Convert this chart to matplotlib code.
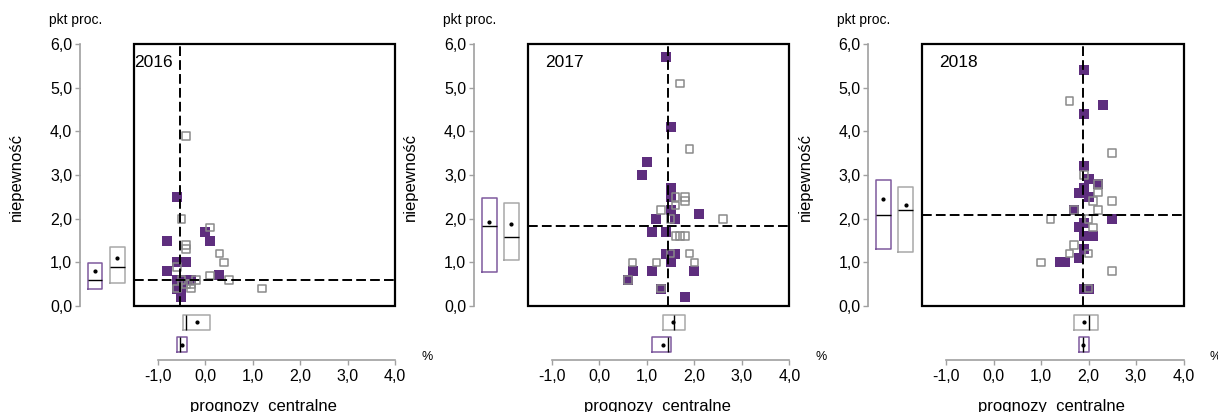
import numpy as np
import matplotlib
matplotlib.use('Agg')
import matplotlib.pyplot as plt
from matplotlib.patches import Rectangle

plt.rcParams['font.family'] = ['Liberation Sans', 'DejaVu Sans']
plt.rcParams['lines.scale_dashes'] = False

# Dane
lata = ['2016', '2017', '2018']

# prognozy centralne (x) i niepewnosc (y) - ankieta biezaca (fiolet)
x_fiolet = [
    [-0.6, -0.8, 0.0, 0.1, -0.6, -0.4, -0.8, 0.3, -0.6, -0.4, -0.3, -0.6, -0.5, -0.5],
    [1.4, 1.5, 1.0, 0.9, 1.5, 1.5, 1.5, 1.2, 1.6, 2.1, 1.1, 1.4, 1.4, 1.6, 1.5, 0.7, 1.1, 2.0, 0.6, 1.3, 1.8],
    [1.9, 2.3, 1.9, 1.9, 2.0, 2.2, 1.9, 1.8, 2.0, 1.7, 2.5, 1.9, 1.8, 1.9, 2.1, 1.9, 1.8, 1.4, 1.5, 1.9, 2.0],
]
y_fiolet = [
    [2.5, 1.5, 1.7, 1.5, 1.0, 1.0, 0.8, 0.7, 0.6, 0.6, 0.6, 0.4, 0.4, 0.2],
    [5.7, 4.1, 3.3, 3.0, 2.7, 2.5, 2.2, 2.0, 2.0, 2.1, 1.7, 1.7, 1.2, 1.2, 1.0, 0.8, 0.8, 0.8, 0.6, 0.4, 0.2],
    [5.4, 4.6, 4.4, 3.2, 2.9, 2.8, 2.7, 2.6, 2.5, 2.2, 2.0, 1.9, 1.8, 1.6, 1.6, 1.3, 1.1, 1.0, 1.0, 0.4, 0.4],
]
# ankieta poprzednia (szare, puste)
x_szare = [
    [-0.4, -0.5, 0.1, -0.4, -0.4, 0.3, 0.4, -0.6, 0.1, 0.5, -0.2, 1.2, -0.3, -0.4, -0.3, -0.6, -0.5],
    [1.7, 1.9, 1.6, 1.8, 1.8, 1.6, 1.3, 1.5, 2.6, 1.6, 1.7, 1.8, 1.9, 1.5, 0.7, 1.2, 2.0, 0.6, 1.3],
    [1.6, 2.5, 1.9, 2.2, 2.2, 2.1, 2.5, 2.2, 1.2, 2.0, 2.1, 1.7, 1.6, 2.0, 1.0, 2.5, 2.0, 1.7],
]
y_szare = [
    [3.9, 2.0, 1.8, 1.4, 1.3, 1.2, 1.0, 0.9, 0.7, 0.6, 0.6, 0.4, 0.5, 0.5, 0.4, 0.4, 0.6],
    [5.1, 3.6, 2.5, 2.5, 2.4, 2.3, 2.2, 2.0, 2.0, 1.6, 1.6, 1.6, 1.2, 1.2, 1.0, 1.0, 1.0, 0.6, 0.4],
    [4.7, 3.5, 3.0, 2.8, 2.6, 2.4, 2.4, 2.2, 2.0, 2.0, 1.8, 1.4, 1.2, 1.2, 1.0, 0.8, 0.4, 2.2],
]

# statystyki pudelek: (q1, mediana, q3, srednia)
niep_fiolet = [(0.40, 0.60, 0.99, 0.80), (0.79, 1.84, 2.48, 1.92), (1.30, 2.09, 2.88, 2.45)]
niep_szare = [(0.52, 0.89, 1.36, 1.09), (1.05, 1.59, 2.37, 1.89), (1.24, 2.19, 2.73, 2.32)]
cent_fiolet = [(-0.60, -0.54, -0.39, -0.49), (1.10, 1.44, 1.50, 1.35), (1.80, 1.89, 2.01, 1.88)]
cent_szare = [(-0.47, -0.40, 0.11, -0.17), (1.35, 1.58, 1.81, 1.56), (1.70, 2.00, 2.21, 1.91)]

yticks = [0, 1, 2, 3, 4, 5, 6]
xticks = [-1, 0, 1, 2, 3, 4]

FIOLET = '#5E2E7E'
FIOLET_RAMKA = '#7E5A9E'
SZARY = '#8A8A8A'
SZARY_RAMKA = '#A8A8A8'
OS = '#A0A0A0'

W, H = 1218, 412
fig = plt.figure(figsize=(W / 100, H / 100), dpi=100)

px_x, px_y = 47.5, 43.65
xmin, xmax, ymin, ymax = -2.7, 4.1, -1.3, 6.1


def stat(q):
    q1, med, q3, mean = q
    return dict(q1=q1, med=med, q3=q3, mean=mean, whislo=q1, whishi=q3, fliers=[])


for i, rok in enumerate(lata):
    x0 = 157.7 + 394.15 * i
    left = x0 + (xmin + 1) * px_x
    top = 306 - ymax * px_y
    bottom = 306 - ymin * px_y
    ax = fig.add_axes([left / W, (H - bottom) / H,
                       (xmax - xmin) * px_x / W, (bottom - top) / H])
    ax.set_xlim(xmin, xmax)
    ax.set_ylim(ymin, ymax)
    ax.patch.set_visible(False)

    # osie
    for s in ['top', 'right']:
        ax.spines[s].set_visible(False)
    ax.spines['left'].set_position(('data', -2.64))
    ax.spines['bottom'].set_position(('data', -1.24))
    ax.spines['left'].set_bounds(0, 6)
    ax.spines['bottom'].set_bounds(-1, 4)
    for s in ['left', 'bottom']:
        ax.spines[s].set_color(OS)
        ax.spines[s].set_linewidth(1.2)
    ax.set_yticks(yticks)
    ax.set_yticklabels([f'{v:.1f}'.replace('.', ',') for v in yticks])
    ax.set_xticks(xticks)
    ax.set_xticklabels([f'{v:.1f}'.replace('.', ',') for v in xticks])
    ax.tick_params(axis='both', direction='out', length=3.5, width=1,
                   color=OS, labelsize=11.5, pad=2)
    ax.tick_params(axis='x', pad=3)

    # ramka wykresu rozrzutu
    ax.add_patch(Rectangle((-1.5, 0), 5.5, 6, fill=False, edgecolor='black',
                           linewidth=1.6, zorder=5))

    # punkty
    ax.scatter(x_fiolet[i], y_fiolet[i], marker='s', s=44, color=FIOLET,
               linewidths=0, zorder=3)
    ax.scatter(x_szare[i], y_szare[i], marker='s', s=30, facecolors='none',
               edgecolors=SZARY, linewidths=1.1, zorder=4)

    # linie median
    ax.vlines(cent_fiolet[i][1], 0, 6, colors='black', linewidth=1.4,
              linestyles=(0, (7, 3)), zorder=4)
    ax.hlines(niep_fiolet[i][1], -1.5, 4, colors='black', linewidth=1.4,
              linestyles=(0, (7, 3)), zorder=4)

    # pudelka
    wspolne = dict(showcaps=False, showfliers=False, showmeans=True, patch_artist=False,
                   medianprops=dict(color='black', linewidth=1),
                   meanprops=dict(marker='o', markersize=2, markerfacecolor='black',
                                  markeredgecolor='black'),
                   manage_ticks=False)
    for stats, poz, kol in [(niep_fiolet[i], -2.32, FIOLET_RAMKA),
                            (niep_szare[i], -1.85, SZARY_RAMKA)]:
        ax.bxp([stat(stats)], positions=[poz], widths=0.31,
               boxprops=dict(color=kol, linewidth=1.1),
               whiskerprops=dict(color=kol, linewidth=0), **wspolne)
    for stats, poz, kol in [(cent_szare[i], -0.37, SZARY_RAMKA),
                            (cent_fiolet[i], -0.89, FIOLET_RAMKA)]:
        ax.bxp([stat(stats)], positions=[poz], widths=0.35, orientation='horizontal',
               boxprops=dict(color=kol, linewidth=1.1),
               whiskerprops=dict(color=kol, linewidth=0), **wspolne)

    # opisy
    ax.text(-1.5 if i == 0 else -1.15, 5.58, rok, fontsize=12.5, va='center',
            ha='left', zorder=6)
    ax.text(-3.29, 6.55, 'pkt proc.', fontsize=10, va='center', ha='left',
            clip_on=False)
    ax.text(-3.97, 2.96, 'niepewność', fontsize=12, rotation=90, va='center',
            ha='center', clip_on=False)
    ax.text(4.55, -1.17, '%', fontsize=9, va='center', ha='left', clip_on=False)
    ax.text(1.23, -2.41, 'prognozy  centralne', fontsize=12, va='baseline',
            ha='center', clip_on=False)

fig.savefig('out.png', dpi=100)
